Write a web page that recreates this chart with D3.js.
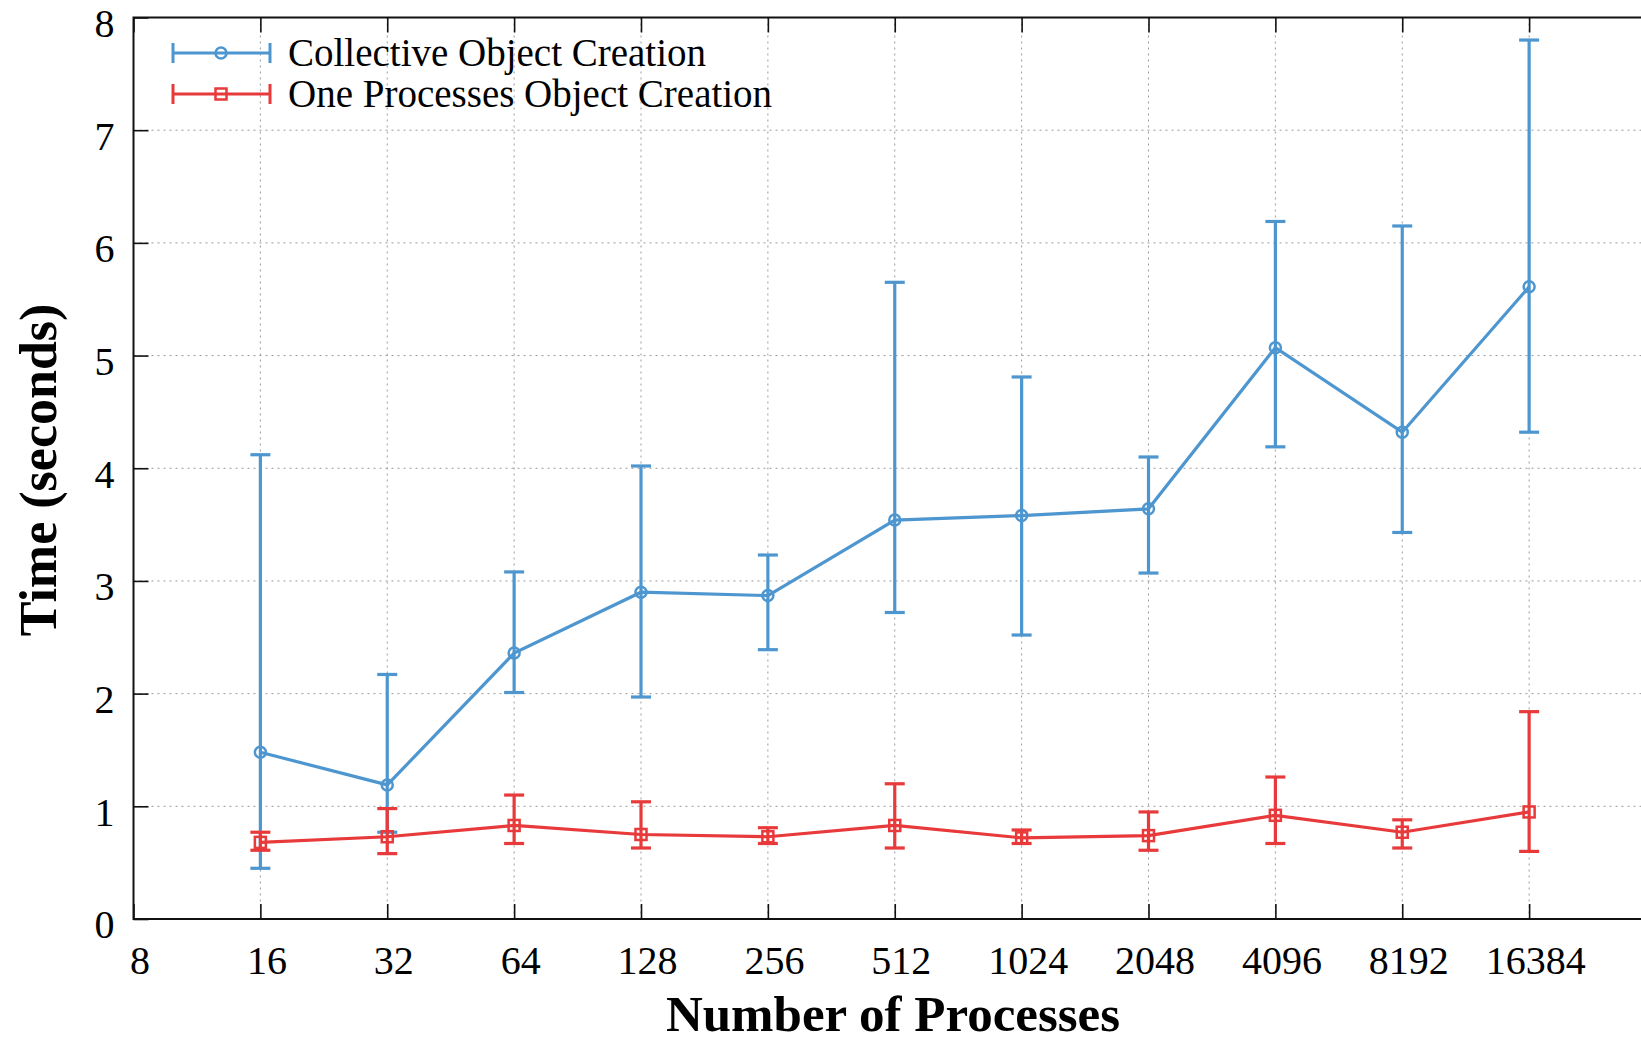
<!DOCTYPE html>
<html>
<head>
<meta charset="utf-8">
<script src="https://cdn.jsdelivr.net/npm/d3@7"></script>
<style>
  body { margin: 0; background: #fff; }
  text { font-family: "Liberation Serif", "DejaVu Serif", serif; }
</style>
</head>
<body>
<div id="chart"></div>
<script>
// data
const procs = [16, 32, 64, 128, 256, 512, 1024, 2048, 4096, 8192, 16384];
const xTicks = [8, 16, 32, 64, 128, 256, 512, 1024, 2048, 4096, 8192, 16384];
const yTicks = [0, 1, 2, 3, 4, 5, 6, 7, 8];

const collMean = [1.48, 1.19, 2.36, 2.90, 2.87, 3.54, 3.58, 3.64, 5.07, 4.32, 5.61];
const collLo   = [0.45, 0.77, 2.01, 1.97, 2.39, 2.72, 2.52, 3.07, 4.19, 3.43, 4.32];
const collHi   = [4.12, 2.17, 3.08, 4.02, 3.23, 5.65, 4.81, 4.10, 6.19, 6.15, 7.80];

const oneMean = [0.68, 0.73, 0.83, 0.75, 0.73, 0.83, 0.72, 0.74, 0.92, 0.77, 0.95];
const oneLo   = [0.61, 0.58, 0.67, 0.63, 0.67, 0.63, 0.67, 0.61, 0.67, 0.63, 0.60];
const oneHi   = [0.77, 0.98, 1.10, 1.04, 0.81, 1.20, 0.79, 0.95, 1.26, 0.88, 1.84];

const width = 1641, height = 1043;
const plotL = 133.5, plotR = 1656, plotT = 17.5, plotB = 919;

const svg = d3.select("#chart")
  .append("svg")
  .attr("width", width)
  .attr("height", height);

// log2 x scale, goes on to 32768 past the right edge
const x = d3.scaleLog().base(2).domain([8, 32768]).range([plotL, plotR]);
const y = d3.scaleLinear().domain([0, 8]).range([plotB, plotT]);

// grid
svg.append("g")
  .selectAll("line")
  .data(xTicks.slice(1))
  .join("line")
  .attr("x1", d => x(d)).attr("x2", d => x(d))
  .attr("y1", plotT).attr("y2", plotB)
  .attr("stroke", "#9a9a9a").attr("stroke-width", 1)
  .attr("stroke-dasharray", "2,4");
svg.append("g")
  .selectAll("line")
  .data(yTicks.slice(1, -1))
  .join("line")
  .attr("x1", plotL).attr("x2", plotR)
  .attr("y1", d => y(d)).attr("y2", d => y(d))
  .attr("stroke", "#9a9a9a").attr("stroke-width", 1)
  .attr("stroke-dasharray", "2,4");

// axes (ticks inward, mirrored on top and right)
const tickLen = 15;
const axisColor = "#111";
svg.append("g")
  .attr("class", "xaxis")
  .attr("transform", `translate(0,${plotB})`)
  .call(d3.axisBottom(x).tickValues(xTicks).tickSizeInner(-tickLen).tickSizeOuter(0).tickPadding(27).tickFormat(d3.format("d")))
  .call(g => g.select(".domain").remove());
svg.append("g")
  .attr("transform", `translate(0,${plotT})`)
  .call(d3.axisTop(x).tickValues(xTicks).tickSizeInner(-tickLen).tickSizeOuter(0).tickFormat(""))
  .call(g => g.select(".domain").remove());
svg.append("g")
  .attr("class", "yaxis")
  .attr("transform", `translate(${plotL},0)`)
  .call(d3.axisLeft(y).tickValues(yTicks).tickSizeInner(-tickLen).tickSizeOuter(0).tickPadding(19))
  .call(g => g.select(".domain").remove());
svg.append("g")
  .attr("transform", `translate(${plotR},0)`)
  .call(d3.axisRight(y).tickValues(yTicks).tickSizeInner(-tickLen).tickSizeOuter(0).tickFormat(""))
  .call(g => g.select(".domain").remove());

svg.selectAll(".tick line").attr("stroke", axisColor).attr("stroke-width", 1.6);
svg.selectAll(".tick text")
  .attr("fill", "#000")
  .style("font-family", "'Liberation Serif', serif")
  .style("font-size", "40px");
// labels sit a bit right / below their ticks like the original
svg.selectAll(".xaxis .tick text").attr("dx", 6);
svg.selectAll(".yaxis .tick text").attr("dy", "0.47em");

svg.append("rect")
  .attr("x", plotL).attr("y", plotT)
  .attr("width", plotR - plotL).attr("height", plotB - plotT)
  .attr("fill", "none").attr("stroke", axisColor).attr("stroke-width", 2);

// series
const blue = "#4d96cf", red = "#e8393b";
function drawMarker(g, marker, cx, cy, color) {
  if (marker === "circle") {
    g.append("circle").attr("cx", cx).attr("cy", cy).attr("r", 5.5)
      .attr("fill", "none").attr("stroke", color).attr("stroke-width", 2.5);
  } else {
    g.append("rect").attr("x", cx - 5.5).attr("y", cy - 5.5)
      .attr("width", 11).attr("height", 11)
      .attr("fill", "none").attr("stroke", color).attr("stroke-width", 2.5);
  }
}
function drawSeries(mean, lo, hi, color, marker) {
  const g = svg.append("g");
  const pts = procs.map((p, i) => ({ p, m: mean[i], lo: lo[i], hi: hi[i] }));
  g.append("path")
    .datum(pts)
    .attr("fill", "none").attr("stroke", color).attr("stroke-width", 3.2)
    .attr("d", d3.line().x(d => x(d.p)).y(d => y(d.m)));
  const cap = 10;
  pts.forEach(d => {
    g.append("line").attr("x1", x(d.p)).attr("x2", x(d.p))
      .attr("y1", y(d.lo)).attr("y2", y(d.hi))
      .attr("stroke", color).attr("stroke-width", 3.2);
    [d.lo, d.hi].forEach(v => {
      g.append("line").attr("x1", x(d.p) - cap).attr("x2", x(d.p) + cap)
        .attr("y1", y(v)).attr("y2", y(v))
        .attr("stroke", color).attr("stroke-width", 3.2);
    });
    drawMarker(g, marker, x(d.p), y(d.m), color);
  });
}
drawSeries(collMean, collLo, collHi, blue, "circle");
drawSeries(oneMean, oneLo, oneHi, red, "square");

// legend
const legendNames = ["Collective Object Creation", "One Processes Object Creation"];
const legendColors = [blue, red];
const legendMarkers = ["circle", "square"];
legendNames.forEach((name, i) => {
  const ly = 53 + i * 41;
  const lg = svg.append("g");
  lg.append("line").attr("x1", 173).attr("x2", 270).attr("y1", ly).attr("y2", ly)
    .attr("stroke", legendColors[i]).attr("stroke-width", 3);
  [173, 270].forEach(xx => {
    lg.append("line").attr("x1", xx).attr("x2", xx).attr("y1", ly - 10).attr("y2", ly + 10)
      .attr("stroke", legendColors[i]).attr("stroke-width", 3);
  });
  drawMarker(lg, legendMarkers[i], 221, ly, legendColors[i]);
  lg.append("text").attr("x", 288).attr("y", ly + 13)
    .style("font-size", "39px").text(name);
});

// axis titles
svg.append("text")
  .attr("x", 893).attr("y", 1031)
  .attr("text-anchor", "middle")
  .style("font-size", "51px").style("font-weight", "bold")
  .text("Number of Processes");
svg.append("text")
  .attr("transform", "translate(56,470) rotate(-90)")
  .attr("text-anchor", "middle")
  .style("font-size", "52px").style("font-weight", "bold")
  .text("Time (seconds)");
</script>
</body>
</html>
